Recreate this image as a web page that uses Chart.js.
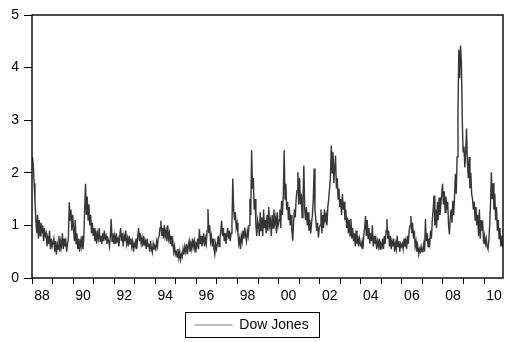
<!DOCTYPE html>
<html>
<head>
<meta charset="utf-8">
<script src="https://cdn.jsdelivr.net/npm/chart.js@4.4.1/dist/chart.umd.min.js"></script>
<style>
  html, body { margin: 0; padding: 0; background: #fff; }
  #wrap { width: 506px; height: 342px; position: relative; }
</style>
</head>
<body>
<div id="wrap"><canvas id="volChart"></canvas></div>
<script>
// Dow Jones volatility, 24 readings per year starting January 1988
var startYear = 1988;
var perYear = 24;
var seriesName = "Dow Jones";

var dowJones = [
  2.3, 2.15, 1.8, 1.45, 1.1, 0.85, 1.2, 0.75, 1.1, 0.8, 1.05, 0.85, 1.0, 0.7, 0.95, 0.8, 0.85, 0.6, 0.8, 0.65, 0.9, 0.55, 0.75, 0.6,       // 1988
  0.6, 0.75, 0.5, 0.7, 0.45, 0.65, 0.55, 0.8, 0.5, 0.7, 0.6, 0.85, 0.55, 0.75, 0.6, 0.7, 0.5, 0.65, 0.75, 1.44, 1.1, 1.3, 0.9, 1.2,       // 1989
  0.95, 0.7, 1.1, 0.65, 0.85, 0.55, 0.75, 0.5, 0.7, 0.6, 0.8, 0.55, 0.75, 1.3, 1.79, 1.2, 1.55, 1.1, 1.4, 1.0, 1.2, 0.85, 1.05, 0.8,     // 1990
  0.95, 0.7, 0.9, 0.65, 0.85, 0.75, 0.95, 0.7, 0.8, 0.65, 0.85, 0.7, 0.9, 0.75, 0.8, 0.65, 0.75, 0.7, 0.6, 0.8, 1.12, 0.7, 0.85, 0.65,   // 1991
  0.8, 0.65, 0.85, 0.7, 0.75, 0.6, 0.8, 0.95, 0.7, 0.85, 0.6, 0.8, 0.7, 0.9, 0.65, 0.75, 0.6, 0.8, 0.65, 0.75, 0.6, 0.7, 0.5, 0.65,      // 1992
  0.6, 0.75, 0.55, 0.8, 0.95, 0.7, 0.85, 0.65, 0.75, 0.6, 0.8, 0.65, 0.7, 0.55, 0.75, 0.6, 0.65, 0.5, 0.7, 0.55, 0.48, 0.65, 0.55, 0.6,  // 1993
  0.55, 0.7, 0.6, 0.75, 0.8, 0.95, 1.09, 0.8, 0.95, 0.75, 1.0, 0.8, 0.9, 0.7, 1.0, 0.75, 0.85, 0.65, 0.8, 0.6, 0.7, 0.5, 0.6, 0.45,      // 1994
  0.5, 0.4, 0.55, 0.38, 0.5, 0.35, 0.45, 0.4, 0.55, 0.45, 0.6, 0.5, 0.65, 0.45, 0.6, 0.7, 0.5, 0.65, 0.55, 0.75, 0.6, 0.7, 0.5, 0.65,    // 1995
  0.6, 0.75, 0.55, 0.93, 0.65, 0.8, 0.6, 0.7, 0.85, 0.6, 0.75, 0.65, 0.9, 1.31, 0.85, 1.0, 0.7, 0.8, 0.6, 0.75, 0.55, 0.45, 0.65, 0.55,  // 1996
  0.65, 0.8, 0.6, 0.75, 0.9, 1.09, 0.8, 0.95, 0.7, 0.85, 0.65, 0.8, 0.95, 0.75, 0.9, 0.7, 0.85, 1.0, 1.89, 1.3, 1.1, 1.25, 0.95, 1.05,   // 1997
  0.85, 0.65, 0.75, 0.55, 0.8, 0.7, 0.9, 0.75, 0.96, 0.8, 0.7, 0.9, 0.8, 1.0, 1.5, 1.2, 2.43, 1.7, 1.9, 1.3, 1.5, 1.0, 0.8, 1.1,        // 1998
  1.0, 0.8, 1.25, 0.9, 1.15, 0.8, 1.3, 0.95, 1.1, 0.85, 1.2, 0.9, 1.35, 1.0, 1.1, 0.8, 1.2, 0.95, 1.3, 1.05, 1.15, 0.85, 1.25, 1.0,      // 1999
  1.1, 1.3, 0.95, 1.47, 1.2, 1.6, 2.43, 1.5, 1.79, 1.3, 1.45, 1.1, 1.35, 1.0, 1.2, 0.9, 0.71, 1.05, 1.3, 1.15, 1.5, 1.66, 2.01, 1.4,     // 2000
  1.9, 1.4, 1.6, 1.15, 1.5, 2.14, 1.3, 1.1, 1.35, 1.0, 1.25, 0.9, 1.1, 0.85, 1.05, 1.2, 1.5, 2.08, 1.3, 1.1, 0.9, 1.05, 0.77, 0.95,      // 2001
  1.0, 1.3, 0.85, 1.2, 0.95, 1.3, 1.1, 1.2, 1.0, 1.35, 1.5, 1.7, 1.9, 2.52, 2.0, 2.4, 1.8, 2.1, 2.33, 1.7, 1.9, 1.5, 1.7, 1.35,          // 2002
  1.5, 1.2, 1.6, 1.3, 1.45, 1.1, 1.3, 0.95, 1.15, 0.85, 1.1, 0.8, 1.12, 0.75, 0.95, 0.7, 0.85, 0.6, 0.9, 0.65, 0.8, 0.6, 0.75, 0.65,     // 2003
  0.6, 0.7, 0.55, 0.8, 0.95, 1.18, 0.8, 1.1, 0.75, 0.95, 0.65, 0.85, 0.7, 1.0, 0.6, 0.8, 0.65, 0.75, 0.55, 0.7, 0.6, 0.75, 0.55, 0.65,   // 2004
  0.6, 0.75, 0.55, 0.8, 0.65, 0.9, 1.12, 0.75, 0.9, 0.6, 0.8, 0.55, 0.7, 0.6, 0.75, 0.5, 0.65, 0.55, 0.8, 0.6, 0.7, 0.5, 0.65, 0.6,     // 2005
  0.65, 0.55, 0.75, 0.6, 0.7, 0.55, 0.8, 0.65, 0.9, 1.0, 1.18, 0.85, 1.05, 0.75, 0.9, 0.6, 0.7, 0.5, 0.6, 0.45, 0.55, 0.5, 0.6, 0.5,     // 2006
  0.55, 0.65, 0.5, 1.12, 0.7, 0.85, 0.6, 0.75, 0.65, 0.9, 0.75, 1.1, 1.3, 1.57, 1.0, 1.3, 0.95, 1.45, 1.1, 1.53, 1.2, 1.4, 1.6, 1.79,    // 2007
  1.4, 1.65, 1.25, 1.55, 1.3, 1.45, 1.0, 0.83, 1.15, 1.3, 1.05, 1.47, 1.2, 1.55, 1.98, 1.6, 2.3, 3.2, 4.34, 3.8, 4.42, 4.1, 3.0, 2.4,    // 2008
  2.5, 2.1, 2.4, 2.84, 2.2, 1.9, 2.3, 1.7, 2.0, 1.6, 1.5, 1.3, 1.45, 1.1, 1.35, 1.0, 1.2, 0.8, 1.3, 0.75, 1.1, 0.9, 1.0, 0.65,           // 2009
  0.8, 0.65, 0.75, 0.6, 0.55, 0.7, 1.0, 1.4, 2.01, 1.5, 1.8, 1.3, 1.6, 1.1, 1.35, 0.9, 1.1, 0.75, 0.95, 0.6, 0.8, 0.6                    // 2010
];

// year boundaries get a tick mark, every second year gets a label
var yearTicks = [1988, 1989, 1990, 1991, 1992, 1993, 1994, 1995, 1996, 1997, 1998, 1999,
                 2000, 2001, 2002, 2003, 2004, 2005, 2006, 2007, 2008, 2009, 2010];
var yearLabels = ["88", "90", "92", "94", "96", "98", "00", "02", "04", "06", "08", "10"];
var yTicks = [0, 1, 2, 3, 4, 5];

var points = dowJones.map(function (v, i) {
    return { x: startYear + (i + 0.5) / perYear, y: v };
});

Chart.defaults.font.family = "'Liberation Sans', Arial, sans-serif";
Chart.defaults.font.size = 14;
Chart.defaults.color = "#000";

// box around the plot and around the legend
var frames = {
    id: "frames",
    afterDraw: function (chart) {
        var c = chart.ctx, a = chart.chartArea;
        c.save();
        c.strokeStyle = "#111";
        c.lineWidth = 1.5;
        c.strokeRect(a.left, a.top, a.right - a.left, a.bottom - a.top);
        var hb = chart.legend.legendHitBoxes[0];
        if (hb) {
            c.lineWidth = 1;
            c.strokeStyle = "#000";
            c.strokeRect(Math.round(hb.left - 9) + 0.5, Math.round(hb.top - 6) + 0.5,
                         Math.round(hb.width + 20), Math.round(hb.height + 11));
        }
        c.restore();
    }
};

new Chart(document.getElementById("volChart").getContext("2d"), {
    type: "line",
    data: {
        datasets: [{
            label: seriesName,
            data: points,
            borderColor: "#363636",
            borderWidth: 1.4,
            pointRadius: 0,
            tension: 0,
            fill: false
        }]
    },
    options: {
        responsive: true,
        maintainAspectRatio: false,
        animation: false,
        layout: { padding: { top: 15, right: 3, left: 0, bottom: 0 } },
        plugins: {
            tooltip: { enabled: false },
            legend: {
                position: "bottom",
                labels: {
                    usePointStyle: true,
                    pointStyle: "line",
                    pointStyleWidth: 38,
                    padding: 10,
                    generateLabels: function () {
                        return [{
                            text: seriesName,
                            strokeStyle: "#a8a8a8",
                            fillStyle: "#a8a8a8",
                            lineWidth: 1.5,
                            pointStyle: "line",
                            datasetIndex: 0
                        }];
                    }
                }
            }
        },
        scales: {
            x: {
                type: "linear",
                min: 1988,
                max: 2010.92,
                afterBuildTicks: function (s) {
                    s.ticks = yearTicks.map(function (y) { return { value: y }; });
                },
                afterFit: function (s) { s.height = 30; },
                grid: { drawOnChartArea: false, tickLength: 6, color: "#000", lineWidth: 1 },
                border: { display: false },
                ticks: {
                    autoSkip: false,
                    maxRotation: 0,
                    padding: 4,
                    labelOffset: 10,
                    callback: function (v) {
                        var k = yearTicks.indexOf(v);
                        return k % 2 === 0 ? yearLabels[k / 2] : "";
                    }
                }
            },
            y: {
                min: 0,
                max: 5,
                afterBuildTicks: function (s) {
                    s.ticks = yTicks.map(function (v) { return { value: v }; });
                },
                afterFit: function (s) { s.width = 32; },
                grid: { drawOnChartArea: false, tickLength: 8, color: "#000", lineWidth: 1 },
                border: { display: false },
                ticks: { padding: 5 }
            }
        }
    },
    plugins: [frames]
});
</script>
</body>
</html>
